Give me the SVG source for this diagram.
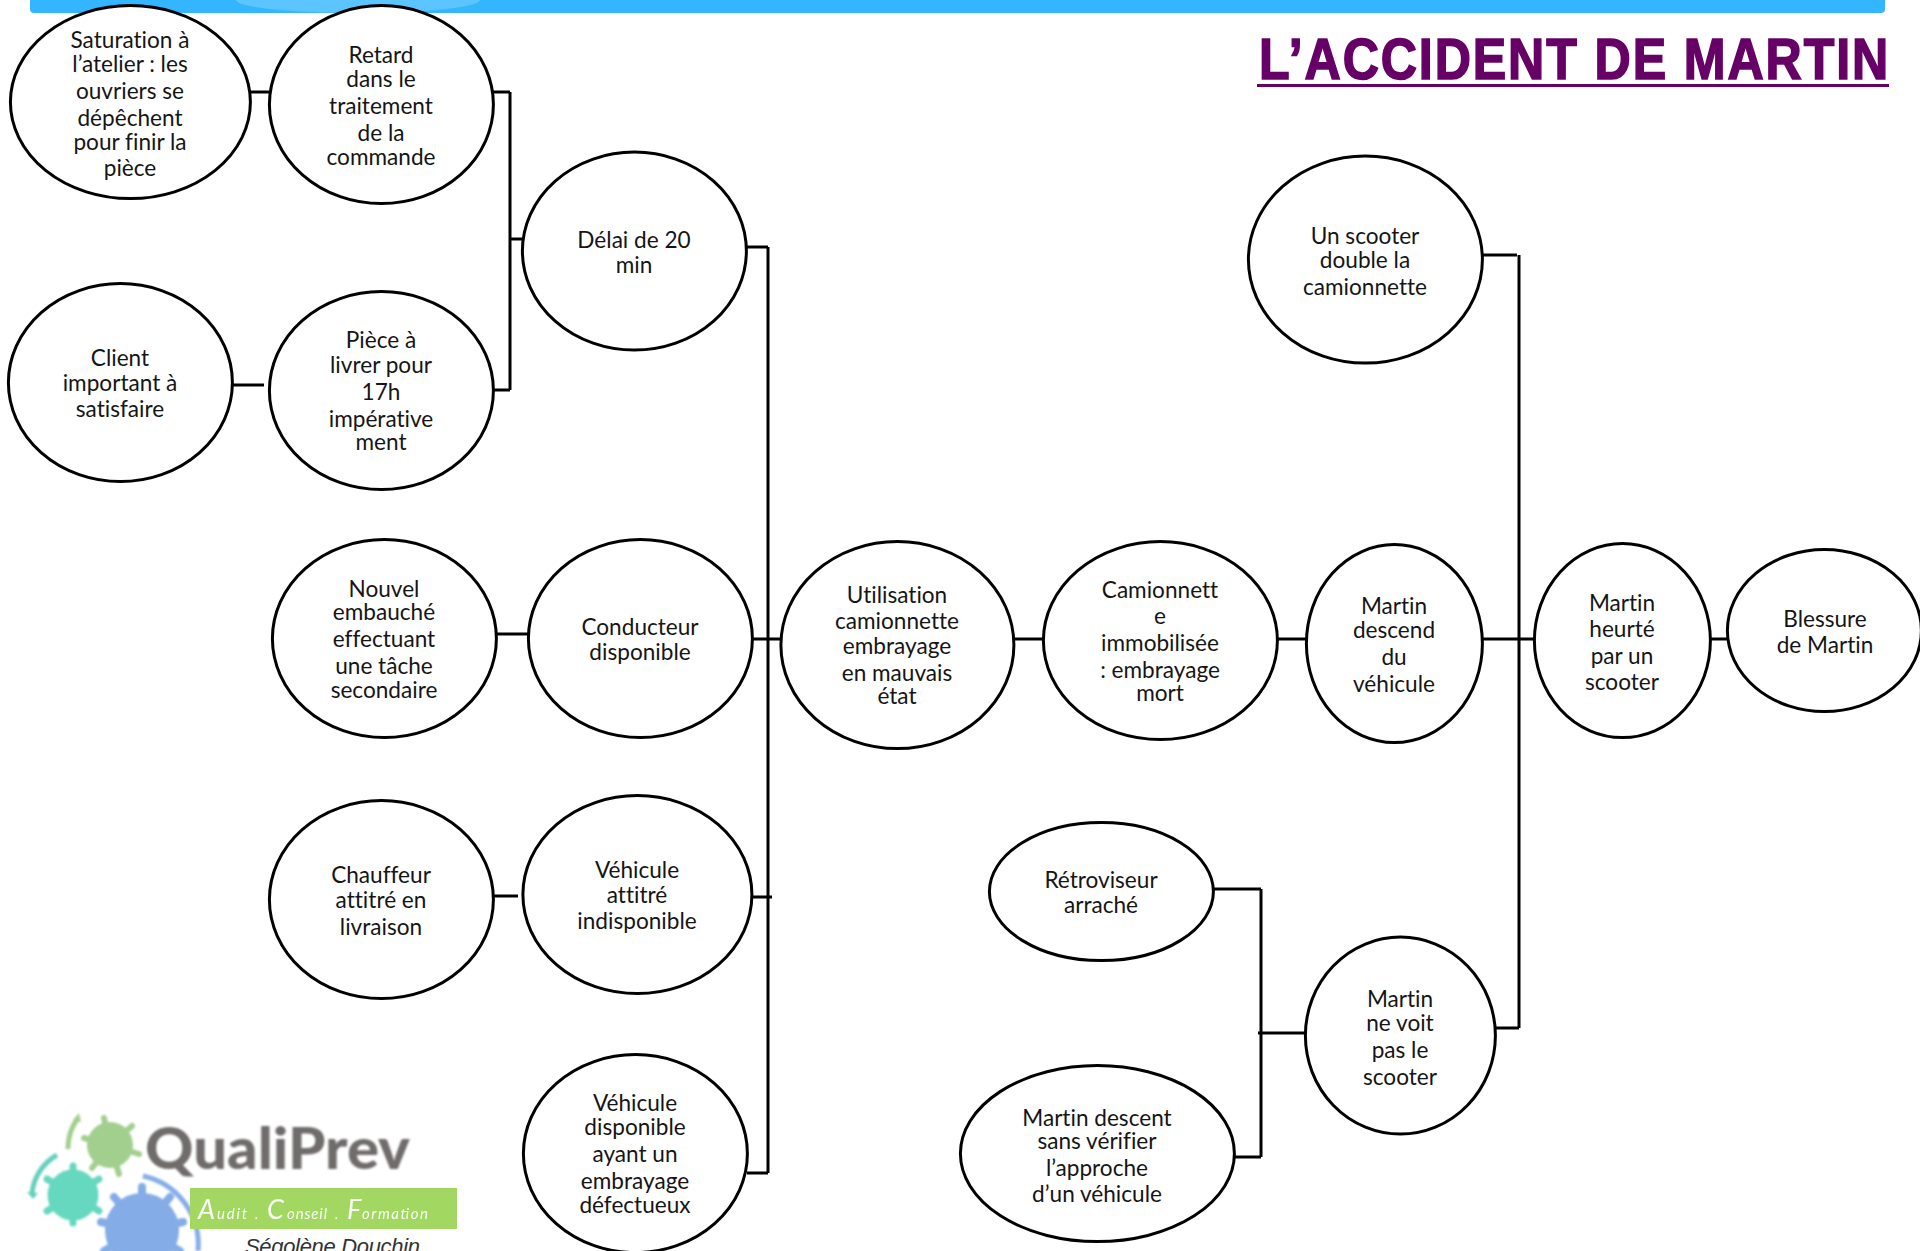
<svg xmlns="http://www.w3.org/2000/svg" width="1920" height="1251" viewBox="0 0 1920 1251">
<style>
.n ellipse{fill:#fff;stroke:#000;stroke-width:3}
.n text{font-family:"Lato","Open Sans",sans-serif;font-size:22.6px;fill:#151515;text-anchor:middle;font-variant-ligatures:none;transform:translate(-.4px,-.1px)}
#connectors path{fill:none;stroke:#000;stroke-width:3}
.lw{fill:#fff;font-family:"Lato",sans-serif;font-style:italic;opacity:.95}
</style>
<defs><filter id="b" x="-10%" y="-10%" width="120%" height="120%"><feGaussianBlur stdDeviation="0.8"/></filter>
<clipPath id="c"><rect width="1920" height="1251"/></clipPath></defs>
<rect width="1920" height="1251" fill="#fff"/>
<g id="topbar"><rect x="30" y="-10" width="1855" height="23" rx="4" fill="#33b5ff"/><ellipse cx="358" cy="0" rx="122" ry="13" fill="#5cc5ff"/></g>
<g id="title"><text transform="translate(1259,79) scale(.88,1)" x="0" y="0" textLength="715" lengthAdjust="spacing" font-family="Liberation Sans,sans-serif" font-weight="700" font-size="57" fill="#660066" stroke="#660066" stroke-width="1.6">L’ACCIDENT DE MARTIN</text><rect x="1257" y="84" width="632" height="3" fill="#660066"/></g>
<g id="connectors" transform="translate(0,1)">
<path d="M250 91H269M493 91H510M510 91V389M493 389H510M510 238H522M232 384H264"/>
<path d="M746 246H768M768 246V1172M752 638H781M752 896H772M747 1172H768M496 633H528M493 895H518"/>
<path d="M1014 638H1043M1277 638H1310M1482 638H1534M1519 254V1027M1482 254H1517M1495 1027H1519M1709 638H1727"/>
<path d="M1213 888H1261M1261 888V1156M1234 1156H1261M1258 1032H1305"/>
</g>
<g id="nodes" transform="translate(0.4,0.6)">
<g id="n1" class="n"><ellipse cx="130" cy="101.5" rx="120" ry="96.5"/><text><tspan x="130" y="47">Saturation à</tspan><tspan x="130" y="71">l’atelier : les</tspan><tspan x="130" y="98">ouvriers se</tspan><tspan x="130" y="125">dépêchent</tspan><tspan x="130" y="149">pour finir la</tspan><tspan x="130" y="175">pièce</tspan></text></g>
<g id="n2" class="n"><ellipse cx="381" cy="104" rx="112" ry="99"/><text><tspan x="381" y="62">Retard</tspan><tspan x="381" y="86">dans le</tspan><tspan x="381" y="113">traitement</tspan><tspan x="381" y="140">de la</tspan><tspan x="381" y="164">commande</tspan></text></g>
<g id="n3" class="n"><ellipse cx="634" cy="250.5" rx="112" ry="99"/><text><tspan x="634" y="247">Délai de 20</tspan><tspan x="634" y="272">min</tspan></text></g>
<g id="n4" class="n"><ellipse cx="120" cy="382" rx="112" ry="99"/><text><tspan x="120" y="365">Client</tspan><tspan x="120" y="390">important à</tspan><tspan x="120" y="416">satisfaire</tspan></text></g>
<g id="n5" class="n"><ellipse cx="381" cy="390" rx="112" ry="99"/><text><tspan x="381" y="347">Pièce à</tspan><tspan x="381" y="372">livrer pour</tspan><tspan x="381" y="399">17h</tspan><tspan x="381" y="426">impérative</tspan><tspan x="381" y="449">ment</tspan></text></g>
<g id="n6" class="n"><ellipse cx="1365" cy="259" rx="117" ry="103.5"/><text><tspan x="1365" y="243">Un scooter</tspan><tspan x="1365" y="267">double la</tspan><tspan x="1365" y="294">camionnette</tspan></text></g>
<g id="n7" class="n"><ellipse cx="384" cy="638" rx="112" ry="99"/><text><tspan x="384" y="596">Nouvel</tspan><tspan x="384" y="619">embauché</tspan><tspan x="384" y="646">effectuant</tspan><tspan x="384" y="673">une tâche</tspan><tspan x="384" y="697">secondaire</tspan></text></g>
<g id="n8" class="n"><ellipse cx="640" cy="638" rx="112" ry="99"/><text><tspan x="640" y="634">Conducteur</tspan><tspan x="640" y="659">disponible</tspan></text></g>
<g id="n9" class="n"><ellipse cx="897" cy="644.5" rx="116.5" ry="103.5"/><text><tspan x="897" y="602">Utilisation</tspan><tspan x="897" y="628">camionnette</tspan><tspan x="897" y="653">embrayage</tspan><tspan x="897" y="680">en mauvais</tspan><tspan x="897" y="703">état</tspan></text></g>
<g id="n10" class="n"><ellipse cx="1160" cy="640" rx="117" ry="99"/><text><tspan x="1160" y="597">Camionnett</tspan><tspan x="1160" y="623">e</tspan><tspan x="1160" y="650">immobilisée</tspan><tspan x="1160" y="677">: embrayage</tspan><tspan x="1160" y="700">mort</tspan></text></g>
<g id="n11" class="n"><ellipse cx="1394" cy="643" rx="88" ry="99"/><text><tspan x="1394" y="613">Martin</tspan><tspan x="1394" y="637">descend</tspan><tspan x="1394" y="664">du</tspan><tspan x="1394" y="691">véhicule</tspan></text></g>
<g id="n12" class="n"><ellipse cx="1622" cy="640" rx="88" ry="97"/><text><tspan x="1622" y="610">Martin</tspan><tspan x="1622" y="636">heurté</tspan><tspan x="1622" y="663">par un</tspan><tspan x="1622" y="689">scooter</tspan></text></g>
<g id="n13" class="n"><ellipse cx="1824" cy="630" rx="97" ry="81"/><text><tspan x="1825" y="626">Blessure</tspan><tspan x="1825" y="652">de Martin</tspan></text></g>
<g id="n14" class="n"><ellipse cx="381" cy="899" rx="112" ry="99"/><text><tspan x="381" y="882">Chauffeur</tspan><tspan x="381" y="907">attitré en</tspan><tspan x="381" y="934">livraison</tspan></text></g>
<g id="n15" class="n"><ellipse cx="637" cy="894" rx="114.5" ry="99"/><text><tspan x="637" y="877">Véhicule</tspan><tspan x="637" y="902">attitré</tspan><tspan x="637" y="928">indisponible</tspan></text></g>
<g id="n16" class="n"><ellipse cx="635" cy="1153" rx="112" ry="99"/><text><tspan x="635" y="1110">Véhicule</tspan><tspan x="635" y="1134">disponible</tspan><tspan x="635" y="1161">ayant un</tspan><tspan x="635" y="1188">embrayage</tspan><tspan x="635" y="1212">défectueux</tspan></text></g>
<g id="n17" class="n"><ellipse cx="1101" cy="891" rx="112" ry="69"/><text><tspan x="1101" y="887">Rétroviseur</tspan><tspan x="1101" y="912">arraché</tspan></text></g>
<g id="n18" class="n"><ellipse cx="1097" cy="1153" rx="137" ry="88"/><text><tspan x="1097" y="1125">Martin descent</tspan><tspan x="1097" y="1148">sans vérifier</tspan><tspan x="1097" y="1175">l’approche</tspan><tspan x="1097" y="1201">d’un véhicule</tspan></text></g>
<g id="n19" class="n"><ellipse cx="1400" cy="1035" rx="95" ry="98.5"/><text><tspan x="1400" y="1006">Martin</tspan><tspan x="1400" y="1030">ne voit</tspan><tspan x="1400" y="1057">pas le</tspan><tspan x="1400" y="1084">scooter</tspan></text></g>
</g>
<g id="logo" clip-path="url(#c)">
<g filter="url(#b)">
<path d="M68 1149A50 50 0 0 1 78 1118" fill="none" stroke="#a3cf8e" stroke-width="5"/>
<path d="M73 1120l6-7 2 9z" fill="#a3cf8e"/>
<path d="M57 1155A50 50 0 0 0 32 1193" fill="none" stroke="#66d0bd" stroke-width="5"/>
<path d="M27 1192l11 1-5 6z" fill="#66d0bd"/>
<path d="M143 1176A70 70 0 0 1 198 1251" fill="none" stroke="#86aee8" stroke-width="5"/>
<g fill="#a3cf8e" stroke="#a3cf8e" stroke-width="6" stroke-linecap="round"><circle cx="110" cy="1145" r="20"/><path d="M110 1145L104 1118M110 1145L132 1126M110 1145L139 1154M110 1145L119 1174M110 1145L92 1168M110 1145L84 1138"/></g>
<g fill="#66d8c0" stroke="#66d8c0" stroke-width="7" stroke-linecap="round"><circle cx="73" cy="1195" r="22"/><path d="M73 1195V1166M73 1195L99 1179M73 1195L99 1211M73 1195V1223M73 1195L47 1211M73 1195L47 1179"/></g>
<g fill="#84ace6" stroke="#84ace6" stroke-width="8" stroke-linecap="round"><circle cx="142" cy="1230" r="33"/><path d="M142 1230V1187M142 1230L170 1197M142 1230L183 1222M142 1230L101 1222M142 1230L114 1197M142 1230L180 1251M142 1230L104 1251"/></g>
</g>
<g filter="url(#b)"><text x="145" y="1169" textLength="265" lengthAdjust="spacingAndGlyphs" font-family="Lato,sans-serif" font-weight="900" font-size="58" fill="#706c6c">QualiPrev</text></g>
<rect x="190" y="1188" width="267" height="41" fill="#a2d862"/>
<text class="lw" x="198" y="1219" font-size="27">A</text><text class="lw" x="217" y="1219" font-size="15" textLength="30">udit</text><text class="lw" x="255" y="1219" font-size="14">.</text>
<text class="lw" x="267" y="1219" font-size="27">C</text><text class="lw" x="287" y="1219" font-size="15" textLength="40">onseil</text><text class="lw" x="335" y="1219" font-size="14">.</text>
<text class="lw" x="347" y="1219" font-size="27">F</text><text class="lw" x="362" y="1219" font-size="15" textLength="66">ormation</text>
<text x="245" y="1254" font-family="Liberation Sans,sans-serif" font-style="italic" font-size="22" fill="#333" textLength="175">Ségolène Douchin</text>
</g>
</svg>
